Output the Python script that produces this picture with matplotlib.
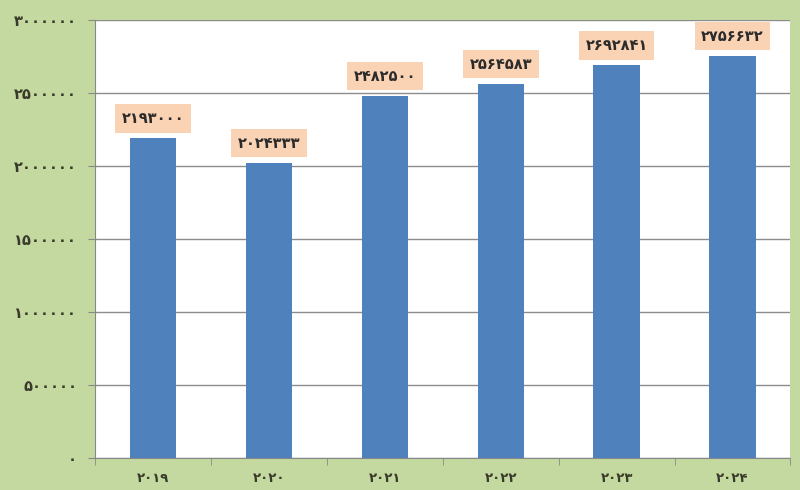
import matplotlib
matplotlib.use("Agg")
import matplotlib.pyplot as plt
from matplotlib.ticker import FixedLocator

years = ["2019", "2020", "2021", "2022", "2023", "2024"]
values = [2193000, 2024333, 2482500, 2564583, 2692841, 2756632]
yticks = [0, 500000, 1000000, 1500000, 2000000, 2500000, 3000000]

fa = str.maketrans("0123456789", "۰۱۲۳۴۵۶۷۸۹")


def fa_num(v):
    return str(v).translate(fa)


plt.rcParams['font.family'] = ['DejaVu Sans']

fig = plt.figure(figsize=(8, 4.9), dpi=100)
fig.patch.set_facecolor('#c4d9a0')
ax = fig.add_axes([0.119, 0.065, 0.869, 0.894])
ax.set_facecolor('white')

x = range(len(years))
ax.bar(x, values, width=0.4, color='#4f81bd', zorder=3)

ax.set_ylim(0, 3000000)
ax.set_xlim(-0.5, len(years) - 0.5)
ax.set_yticks(yticks)
ax.set_yticklabels([fa_num(t) for t in yticks], fontsize=10.5, fontweight='bold', color='#3a3a2a')
ax.set_xticks(list(x))
ax.set_xticklabels([fa_num(y) for y in years], fontsize=9.5, fontweight='bold', color='#3a3a2a')
ax.tick_params(axis='x', length=0, pad=10)
ax.xaxis.set_minor_locator(FixedLocator([i - 0.5 for i in range(len(years) + 1)]))
ax.tick_params(axis='x', which='minor', length=5, color='#888888')
ax.tick_params(axis='y', length=5, color='#888888', pad=8)

ax.grid(axis='y', color='#8c8c8c', linewidth=1, zorder=0)
for s in ['top', 'right']:
    ax.spines[s].set_visible(False)
ax.spines['left'].set_color('#888888')
ax.spines['bottom'].set_color('#888888')

for i, v in enumerate(values):
    ax.annotate(fa_num(v), (i, v), xytext=(0, 14), textcoords='offset points',
                ha='center', va='center', fontsize=10.5, fontweight='bold', color='#2b2b2b',
                bbox=dict(boxstyle='square,pad=0.45', fc='#fad3b4', ec='none'), zorder=4)

fig.savefig('out.png', dpi=100, facecolor=fig.get_facecolor())
